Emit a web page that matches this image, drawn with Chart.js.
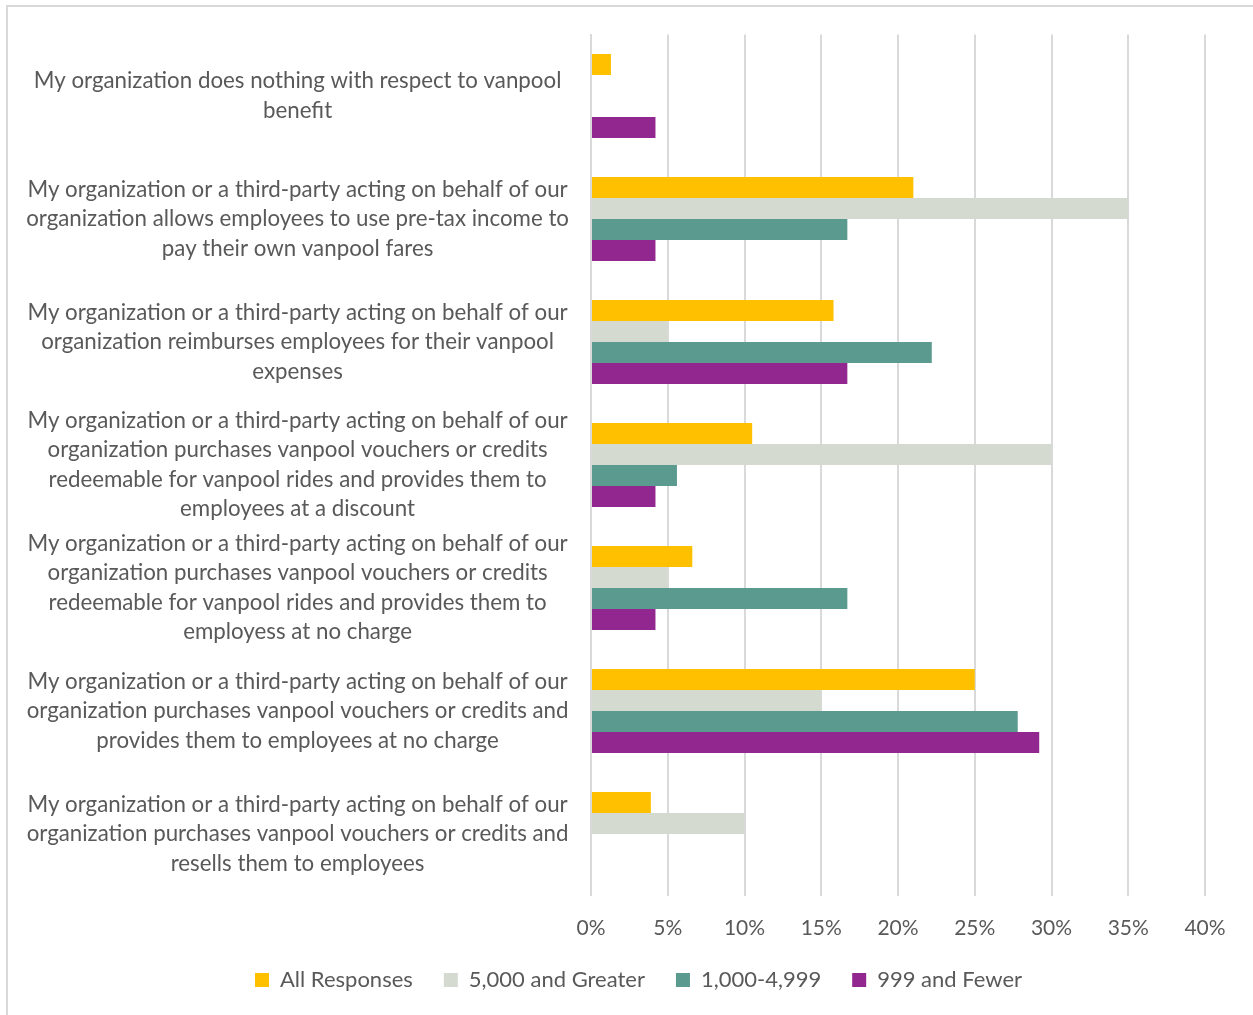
<!DOCTYPE html>
<html>
<head>
<meta charset="utf-8">
<script src="https://cdn.jsdelivr.net/npm/chart.js@4"></script>
<style>
  html, body { margin: 0; padding: 0; background: #fff; }
  #frame {
    position: absolute; left: 6px; top: 5px;
    width: 1260px; height: 1030px;
    border-left: 2px solid #d9d9d9; border-top: 2px solid #d9d9d9;
  }
  #wrap { position: absolute; left: 0; top: 0; width: 1245px; height: 1008px; }
</style>
</head>
<body>
<div id="frame"><div id="wrap"><canvas id="vanpool"></canvas></div></div>
<script>
// survey answers, grouped by organization size
const categories = [
  ['My organization does nothing with respect to vanpool', 'benefit'],
  ['My organization or a third-party acting on behalf of our', 'organization allows employees to use pre-tax income to', 'pay their own vanpool fares'],
  ['My organization or a third-party acting on behalf of our', 'organization reimburses employees for their vanpool', 'expenses'],
  ['My organization or a third-party acting on behalf of our', 'organization purchases vanpool vouchers or credits', 'redeemable for vanpool rides and provides them to', 'employees at a discount'],
  ['My organization or a third-party acting on behalf of our', 'organization purchases vanpool vouchers or credits', 'redeemable for vanpool rides and provides them to', 'employess at no charge'],
  ['My organization or a third-party acting on behalf of our', 'organization purchases vanpool vouchers or credits and', 'provides them to employees at no charge'],
  ['My organization or a third-party acting on behalf of our', 'organization purchases vanpool vouchers or credits and', 'resells them to employees']
];
const seriesNames = ['All Responses', '5,000 and Greater', '1,000-4,999', '999 and Fewer'];
const allResponses = [1.3, 21.0, 15.8, 10.5, 6.6, 25.0, 3.9];
const over5000 = [0, 35.0, 5.0, 30.0, 5.0, 15.0, 10.0];
const mid1000 = [0, 16.7, 22.2, 5.6, 16.7, 27.8, 0];
const under1000 = [4.2, 4.2, 16.7, 4.2, 4.2, 29.2, 0];
const xTicks = [0, 5, 10, 15, 20, 25, 30, 35, 40];

const colors = ['#ffc000', '#d5dad0', '#5b9a8f', '#92278f'];
const textColor = '#595959';
const fontFamily = 'Lato, "Open Sans", sans-serif';

// the legend box is centred on the plot width, push it a bit to the right
const legendShift = {
  id: 'legendShift',
  afterLayout(chart) {
    if (chart.legend) chart.legend.left += 64;
  }
};

const chart = new Chart(document.getElementById('vanpool'), {
  type: 'bar',
  data: {
    labels: categories,
    datasets: [allResponses, over5000, mid1000, under1000].map((d, i) => ({
      label: seriesNames[i],
      data: d,
      backgroundColor: colors[i],
      borderWidth: 0,
      categoryPercentage: 0.683,
      barPercentage: 1
    }))
  },
  plugins: [legendShift],
  options: {
    indexAxis: 'y',
    responsive: true,
    maintainAspectRatio: false,
    animation: false,
    layout: { padding: { top: 27.5, right: 48, left: 0, bottom: 14 } },
    plugins: {
      tooltip: { enabled: false },
      legend: {
        position: 'bottom',
        labels: {
          color: textColor,
          boxWidth: 14, boxHeight: 14,
          padding: 31,
          font: { family: fontFamily, size: 22 }
        }
      }
    },
    scales: {
      x: {
        min: 0, max: 40,
        afterBuildTicks: s => { s.ticks = xTicks.map(v => ({ value: v })); },
        afterFit: s => { s.height = 42.5; },
        grid: { color: '#d9d9d9', lineWidth: 2, drawTicks: false },
        border: { display: false },
        ticks: {
          color: textColor, padding: 20,
          font: { family: fontFamily, size: 21 },
          callback: v => v + '%'
        }
      },
      y: {
        grid: { display: false, drawTicks: false },
        border: { color: '#d9d9d9', width: 2 },
        afterFit: s => { s.width = 583; s.paddingTop = 0; s.paddingBottom = 0; },
        ticks: {
          color: textColor, padding: 22,
          autoSkip: false,
          crossAlign: 'center',
          font: { family: fontFamily, size: 22.3, lineHeight: 1.32 }
        }
      }
    }
  }
});
</script>
</body>
</html>
